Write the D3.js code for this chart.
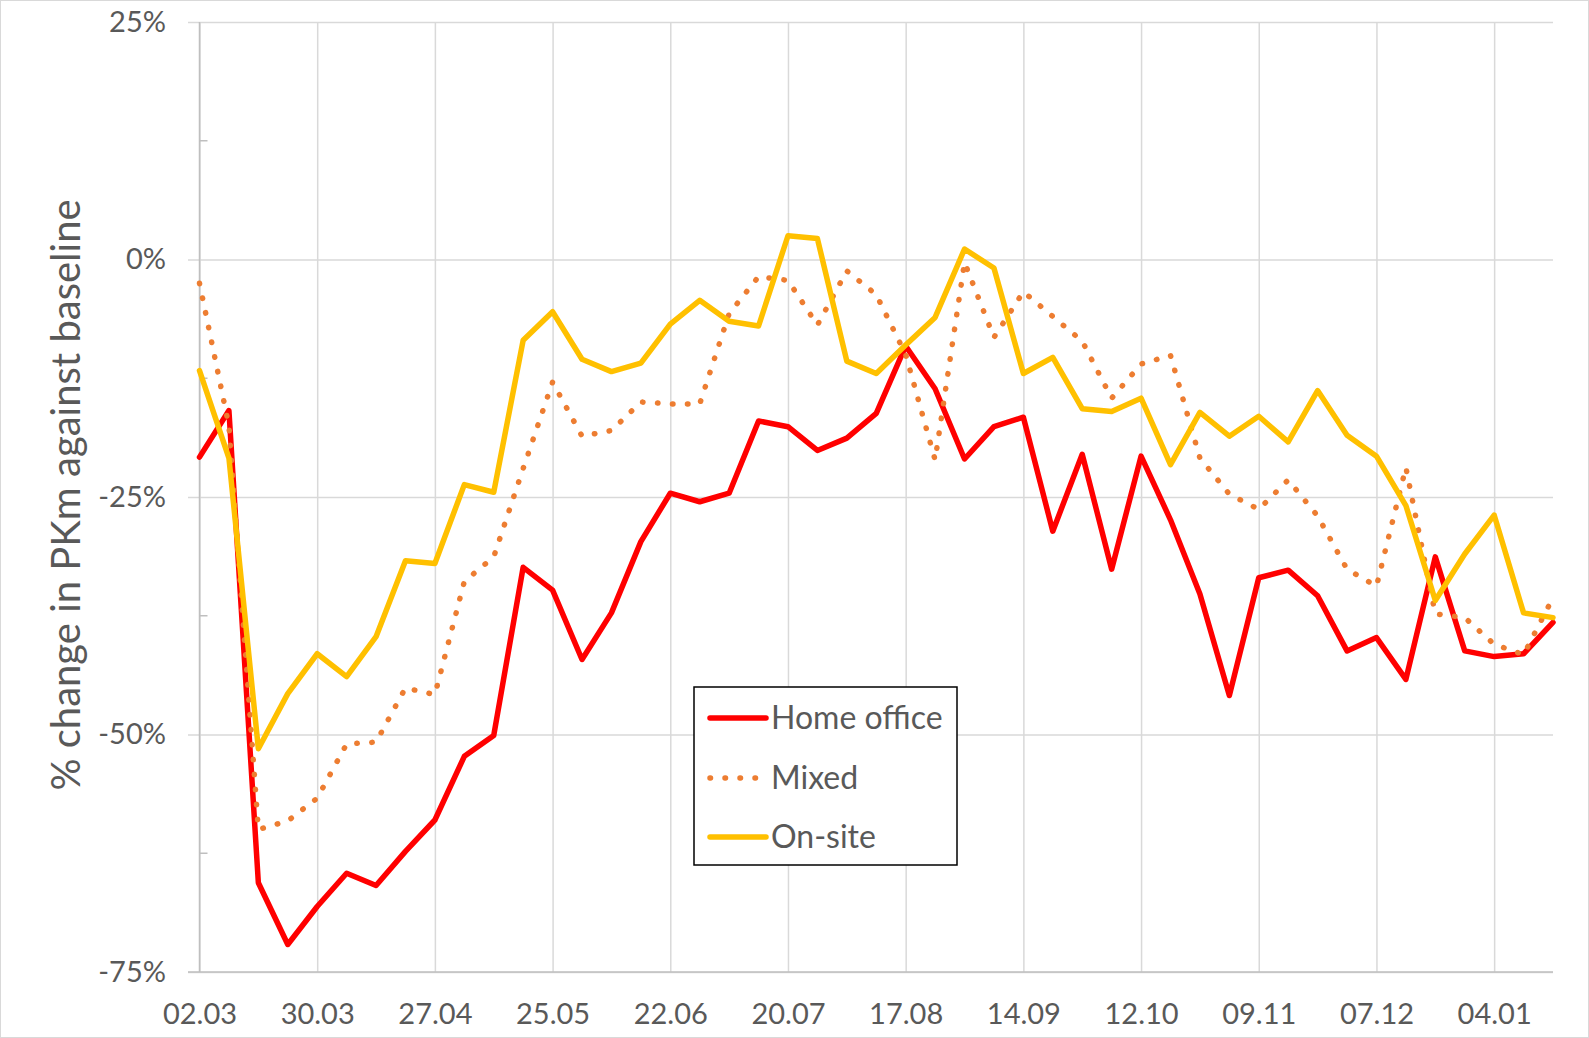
<!DOCTYPE html>
<html><head><meta charset="utf-8">
<script src="https://cdn.jsdelivr.net/npm/d3@7"></script>
<style>
body{margin:0;background:#fff}
svg{display:block}
text{font-family:Lato,"Open Sans",sans-serif;fill:#595959}
</style>
</head><body>
<svg id="chart" width="1589" height="1038"></svg>
<script>
const weeks = ["02.03","09.03","16.03","23.03","30.03","06.04","13.04","20.04","27.04","04.05","11.05","18.05","25.05","01.06","08.06","15.06","22.06","29.06","06.07","13.07","20.07","27.07","03.08","10.08","17.08","24.08","31.08","07.09","14.09","21.09","28.09","05.10","12.10","19.10","26.10","02.11","09.11","16.11","23.11","30.11","07.12","14.12","21.12","28.12","04.01","11.01","18.01"];
const tickLabels = ["02.03","30.03","27.04","25.05","22.06","20.07","17.08","14.09","12.10","09.11","07.12","04.01"];
const yTicks = [25,0,-25,-50,-75];
const yMinorTicks = [12.5,-12.5,-37.5,-62.5];
const homeOffice = [-20.8,-15.9,-65.6,-72.1,-68.1,-64.6,-65.9,-62.3,-59.0,-52.3,-50.1,-32.4,-34.8,-42.1,-37.2,-29.7,-24.6,-25.5,-24.6,-17.0,-17.6,-20.1,-18.8,-16.2,-9.1,-13.6,-21.0,-17.6,-16.6,-28.6,-20.5,-32.6,-20.7,-27.4,-35.2,-45.9,-33.5,-32.7,-35.4,-41.2,-39.8,-44.2,-31.3,-41.2,-41.8,-41.5,-38.2];
const mixed = [-2.5,-17.5,-60.0,-59.1,-56.7,-51.0,-50.8,-45.1,-45.8,-33.9,-31.3,-22.0,-12.9,-18.6,-18.0,-15.0,-15.2,-15.2,-5.7,-1.8,-2.2,-6.9,-1.2,-3.7,-10.0,-21.1,-0.3,-8.2,-3.4,-6.0,-8.6,-14.6,-11.0,-10.1,-20.9,-24.7,-26.3,-23.2,-27.0,-32.6,-34.4,-21.9,-37.3,-37.7,-40.5,-41.6,-35.6];
const onSite = [-11.7,-20.9,-51.5,-45.7,-41.5,-43.9,-39.7,-31.7,-32.0,-23.7,-24.5,-8.5,-5.5,-10.5,-11.8,-10.9,-6.8,-4.3,-6.5,-7.0,2.5,2.2,-10.7,-12.0,-9.0,-6.1,1.1,-0.9,-12.0,-10.3,-15.7,-16.0,-14.6,-21.6,-16.1,-18.6,-16.5,-19.2,-13.8,-18.5,-20.7,-25.9,-35.9,-31.0,-26.9,-37.2,-37.7];
const seriesNames = ["Home office","Mixed","On-site"];
const seriesColors = ["#FF0000","#ED7D31","#FFC000"];
const yTitle = "% change in PKm against baseline";

(function(){
const svg = d3.select("#chart");
const pL = 199.5, pR = 1553, pT = 22, pB = 972;
const x = d3.scalePoint().domain(weeks).range([pL, pR]);
const y = d3.scaleLinear().domain([-75, 25]).range([pB, pT]);

// chart border
svg.append("rect").attr("x",0.5).attr("y",0.5).attr("width",1588).attr("height",1037)
  .attr("fill","none").attr("stroke","#D9D9D9").attr("stroke-width",1);

// horizontal gridlines + y labels
const gy = svg.append("g").attr("transform",`translate(188,0)`)
  .call(d3.axisLeft(y).tickValues(yTicks).tickSize(-(pR-188)).tickPadding(22).tickFormat(d=>d+"%"));
gy.select(".domain").remove();
gy.selectAll(".tick line").attr("stroke","#D9D9D9").attr("stroke-width",1.5);
gy.selectAll(".tick text").attr("font-size",29).attr("fill","#595959").attr("font-family","Lato");

// vertical gridlines + x labels
const gx = svg.append("g").attr("transform",`translate(0,${pB})`)
  .call(d3.axisBottom(x).tickValues(tickLabels).tickSize(-(pB-pT)).tickPadding(31));
gx.select(".domain").remove();
gx.selectAll(".tick line").attr("stroke","#D9D9D9").attr("stroke-width",1.5);
gx.selectAll(".tick text").attr("font-size",29).attr("fill","#595959").attr("font-family","Lato");

// axis lines
svg.append("line").attr("x1",188).attr("x2",pR).attr("y1",pB).attr("y2",pB)
  .attr("stroke","#BFBFBF").attr("stroke-width",1.5);
svg.append("line").attr("x1",pL).attr("x2",pL).attr("y1",pT).attr("y2",pB)
  .attr("stroke","#BFBFBF").attr("stroke-width",1.5);
svg.append("g").selectAll("line").data(yMinorTicks).join("line")
  .attr("x1",pL).attr("x2",pL+8).attr("y1",d=>y(d)).attr("y2",d=>y(d))
  .attr("stroke","#BFBFBF").attr("stroke-width",1.5);

// y title
svg.append("text").attr("transform",`translate(80,495) rotate(-90)`)
  .attr("text-anchor","middle").attr("font-size",40).attr("fill","#595959").text(yTitle);

// lines
const line = d3.line().x((d,i)=>x(weeks[i])).y(d=>y(d));
const allSeries = [homeOffice, mixed, onSite];
allSeries.forEach((s,k)=>{
  const p = svg.append("path").datum(s).attr("d",line).attr("fill","none")
    .attr("stroke",seriesColors[k]).attr("stroke-width",5.5)
    .attr("stroke-linejoin","round").attr("stroke-linecap","round");
  if (k===1) p.attr("stroke-dasharray","0.5 14.5");
});

// legend
const lg = svg.append("g");
lg.append("rect").attr("x",694).attr("y",687).attr("width",263).attr("height",178)
  .attr("fill","#fff").attr("stroke","#000").attr("stroke-width",1.5);
const rows = [718, 778, 837];
seriesNames.forEach((n,k)=>{
  const l = lg.append("line").attr("x1",710).attr("x2",k===1?755.5:766).attr("y1",rows[k]).attr("y2",rows[k])
    .attr("stroke",seriesColors[k]).attr("stroke-width",5.5).attr("stroke-linecap","round");
  if (k===1) l.attr("stroke-dasharray","0.5 14.5");
  lg.append("text").attr("x",771).attr("y",rows[k]+11).attr("font-size",32).attr("fill","#595959").text(n);
});
})();
</script>
</body></html>
